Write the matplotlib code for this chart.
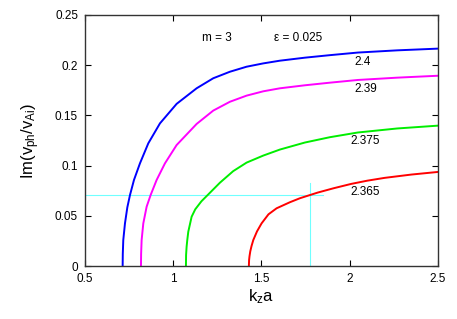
import matplotlib
matplotlib.use('Agg')
import matplotlib.pyplot as plt
from matplotlib.ticker import FuncFormatter

plt.rcParams['font.family'] = ['Liberation Sans', 'DejaVu Sans']
plt.rcParams['mathtext.default'] = 'regular'

# curve data (k_z a, Im(v_ph/v_Ai))
blue_x = [0.7134, 0.7142, 0.717, 0.7266, 0.740, 0.755, 0.7776, 0.8116, 0.8588, 0.925, 1.0194,
          1.1327, 1.227, 1.3215, 1.416, 1.5104, 1.6048, 1.7465, 1.888, 2.047, 2.27, 2.5]
blue_y = [0.0, 0.012, 0.0259, 0.0425, 0.0585, 0.0707, 0.0857, 0.1023, 0.1222, 0.1421, 0.1615,
          0.177, 0.187, 0.1935, 0.1985, 0.2018, 0.2045, 0.2075, 0.2100, 0.2126, 0.2148, 0.2165]

mag_x = [0.8173, 0.8181, 0.821, 0.8305, 0.8494, 0.872, 0.906, 0.9533, 1.0194, 1.1327,
         1.227, 1.3215, 1.416, 1.5104, 1.6048, 1.7465, 1.888, 2.047, 2.27, 2.5]
mag_y = [0.0, 0.012, 0.0259, 0.0425, 0.0591, 0.0707, 0.0857, 0.1023, 0.1205, 0.1415,
         0.1548, 0.1636, 0.1697, 0.1740, 0.1770, 0.1800, 0.1826, 0.1853, 0.1876, 0.1895]

grn_x = [1.0722, 1.073, 1.076, 1.0798, 1.0855, 1.1044, 1.125, 1.16, 1.1987, 1.2649, 1.340,
         1.416, 1.5104, 1.6048, 1.7465, 1.888, 2.047, 2.27, 2.5]
grn_y = [0.0, 0.011, 0.0193, 0.0259, 0.0342, 0.0491, 0.0565, 0.0645, 0.0713, 0.0830, 0.0945,
         0.1030, 0.1100, 0.1160, 0.1230, 0.1283, 0.1330, 0.1370, 0.1398]

red_x = [1.429, 1.4302, 1.4325, 1.437, 1.444, 1.454, 1.475, 1.501, 1.54, 1.586, 1.661, 1.718,
         1.775, 1.82, 1.91, 2.009, 2.10, 2.198, 2.35, 2.5]
red_y = [0.0, 0.006, 0.0097, 0.0147, 0.0199, 0.0259, 0.0345, 0.0425, 0.0515, 0.0575, 0.0635, 0.0675,
         0.0707, 0.0732, 0.0775, 0.0818, 0.0850, 0.0878, 0.0911, 0.0937]

curve_labels = ['2.4', '2.39', '2.375', '2.365']
label_x = [2.075, 2.09, 2.09, 2.09]
label_y = [0.2035, 0.176, 0.1245, 0.0734]

# cyan marker lines
h_level = 0.0707
h_end = 1.847
v_pos = 1.775
v_top = 0.0824

fig = plt.figure(figsize=(4.57, 3.19), dpi=100)
ax = fig.add_axes([0.186, 0.166, 0.772, 0.787])

ax.plot([0.5, h_end], [h_level, h_level], color='#70ffff', lw=0.8)
ax.plot([v_pos, v_pos], [0, v_top], color='#70ffff', lw=0.8)

ax.plot(blue_x, blue_y, color='#0000ff', lw=1.4)
ax.plot(mag_x, mag_y, color='#ff00ff', lw=1.4)
ax.plot(grn_x, grn_y, color='#00ee00', lw=1.4)
ax.plot(red_x, red_y, color='#ff0000', lw=1.4)

for t, x, y in zip(curve_labels, label_x, label_y):
    ax.text(x, y, t, ha='center', va='center', fontsize=8.5)

ax.text(1.246, 0.2268, 'm = 3', ha='center', va='center', fontsize=8.5)
ax.text(1.709, 0.2268, 'ε = 0.025', ha='center', va='center', fontsize=8.5)

ax.set_xlim(0.5, 2.5)
ax.set_ylim(0, 0.25)
ax.set_xticks([0.5, 1, 1.5, 2, 2.5])
ax.set_yticks([0, 0.05, 0.1, 0.15, 0.2, 0.25])
fmt = FuncFormatter(lambda v, p: '%g' % round(v, 3))
ax.xaxis.set_major_formatter(fmt)
ax.yaxis.set_major_formatter(fmt)
ax.tick_params(direction='in', top=True, right=True, length=4, width=0.8, labelsize=8.5, pad=5)
for s in ax.spines.values():
    s.set_linewidth(1.0)
    s.set_color('#333333')

ax.set_xlabel('k$_z$a', fontsize=12, labelpad=2)
ax.set_ylabel('Im(v$_{ph}$/v$_{Ai}$)', fontsize=12, labelpad=9)

fig.savefig('out.png', dpi=100)
